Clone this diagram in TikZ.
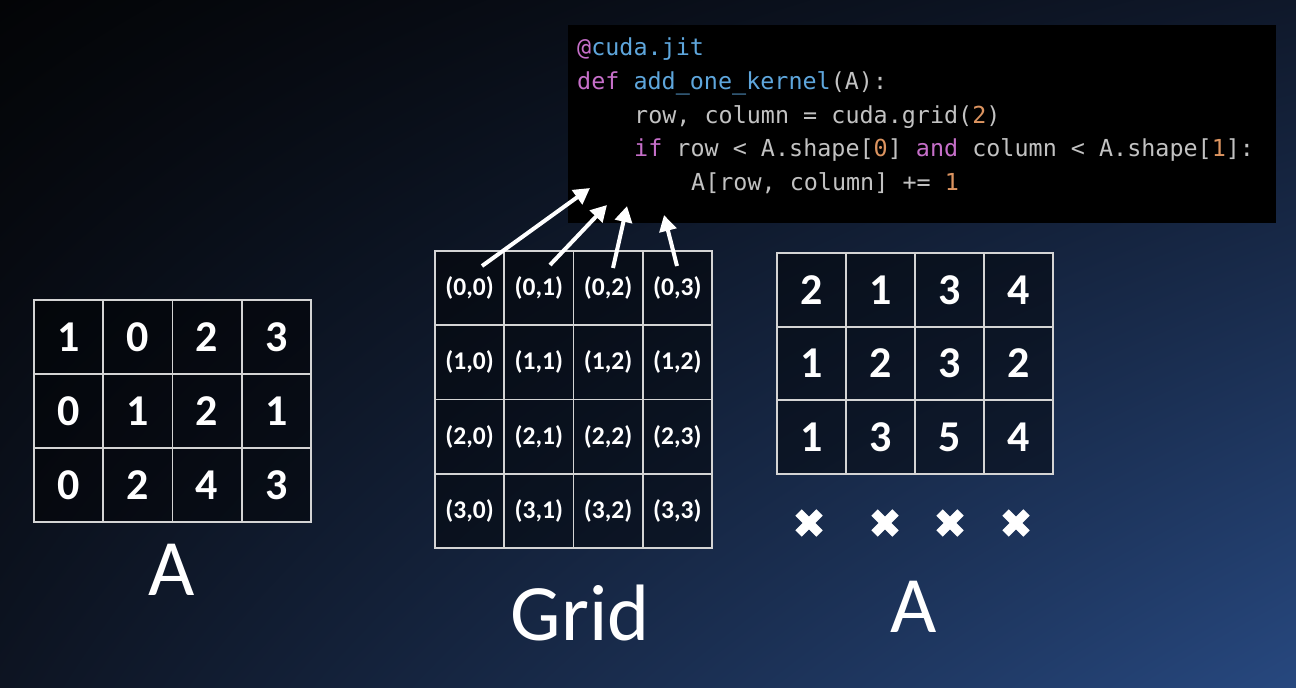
\documentclass[tikz,border=0pt]{standalone}
\usepackage{fontspec}
\setmainfont{Carlito}
\newfontfamily\codefont{DejaVu Sans Mono}
\usetikzlibrary{arrows.meta,shadings}
\definecolor{bgTL}{HTML}{030406}
\definecolor{bgTR}{HTML}{0F182A}
\definecolor{bgBL}{HTML}{0D1422}
\definecolor{bgBR}{HTML}{27487F}
\definecolor{lineC}{HTML}{D4D4D4}
\definecolor{cpink}{HTML}{C66FC9}
\definecolor{cblue}{HTML}{5EA6DC}
\definecolor{cgray}{HTML}{C2C2C2}
\definecolor{corange}{HTML}{DC9460}
\begin{document}
\begin{tikzpicture}[x=1pt,y=-1pt,
  cellbox/.style={draw=lineC, line width=1.8pt, fill=black, fill opacity=0.45, text opacity=1,
    text=white, inner sep=0pt, font=\bfseries\fontsize{44}{44}\selectfont},
  gridcell/.style={cellbox, font=\bfseries\fontsize{25.5}{25.5}\selectfont},
  codeline/.style={anchor=base west, inner sep=0pt, text=cgray, font=\codefont\fontsize{23.4}{23.4}\selectfont},
  biglabel/.style={anchor=base, inner sep=0pt, text=white, font=\fontsize{80}{80}\selectfont},
  arr/.style={white, line width=4pt, -{Triangle[length=16pt,width=17pt]}},
  xmark/.style={white, line width=9pt}
]
\useasboundingbox (0,0) rectangle (1296,688);
\shade[upper left=bgTL, upper right=bgTR, lower left=bgBL, lower right=bgBR] (0,0) rectangle (1296,688);

% code box
\node[fill=black, inner sep=0pt, minimum width=708pt, minimum height=198pt, anchor=north west] (codebox) at (568,25) {};
\node[codeline] (code1) at (577,55) {{\color{cpink}@}{\color{cblue}cuda.jit}};
\node[codeline] (code2) at (577,89) {{\color{cpink}def} {\color{cblue}add\_one\_kernel}(A):};
\node[codeline] (code3) at (634,123) {row, column = cuda.grid({\color{corange}2})};
\node[codeline] (code4) at (634,156) {{\color{cpink}if} row < A.shape[{\color{corange}0}] {\color{cpink}and} column < A.shape[{\color{corange}1}]:};
\node[codeline] (code5) at (691,190) {A[row, column] += {\color{corange}1}};

% left matrix A
\foreach \r/\c/\v in {0/0/1,0/1/0,0/2/2,0/3/3, 1/0/0,1/1/1,1/2/2,1/3/1, 2/0/0,2/1/2,2/2/4,2/3/3}{
  \node[cellbox, minimum width=69.25pt, minimum height=74pt] (L-\r-\c) at ({34+69.25*(\c+0.5)},{300+74*(\r+0.5)}) {\v};
}
\node[biglabel] (labelA1) at (172,595) {A};

% grid
\foreach \r/\c/\v in {0/0/{(0,0)},0/1/{(0,1)},0/2/{(0,2)},0/3/{(0,3)},
  1/0/{(1,0)},1/1/{(1,1)},1/2/{(1,2)},1/3/{(1,2)},
  2/0/{(2,0)},2/1/{(2,1)},2/2/{(2,2)},2/3/{(2,3)},
  3/0/{(3,0)},3/1/{(3,1)},3/2/{(3,2)},3/3/{(3,3)}}{
  \node[gridcell, minimum width=69.25pt, minimum height=74.25pt] (G-\r-\c) at ({435+69.25*(\c+0.5)},{251+74.25*(\r+0.5)}) {\v};
}
\node[biglabel] (labelGrid) at (580,640) {Grid};

% right matrix A
\foreach \r/\c/\v in {0/0/2,0/1/1,0/2/3,0/3/4, 1/0/1,1/1/2,1/2/3,1/3/2, 2/0/1,2/1/3,2/2/5,2/3/4}{
  \node[cellbox, minimum width=69pt, minimum height=73.67pt] (R-\r-\c) at ({777+69*(\c+0.5)},{253+73.67*(\r+0.5)}) {\v};
}
\node[biglabel] (labelA2) at (914,632) {A};

% crosses
\foreach \i/\x in {1/809,2/885,3/950,4/1016}{
  \coordinate (x\i) at (\x,523);
  \draw[xmark] ([shift={(-10.5,-10.5)}]x\i) -- ([shift={(10.5,10.5)}]x\i)
               ([shift={(-10.5,10.5)}]x\i) -- ([shift={(10.5,-10.5)}]x\i);
}

% arrows
\coordinate (t0) at (482,266); \coordinate (h0) at (590,188);
\coordinate (t1) at (550,265); \coordinate (h1) at (607,205);
\coordinate (t2) at (613,268); \coordinate (h2) at (627,206);
\coordinate (t3) at (677,266); \coordinate (h3) at (664,215);
\draw[arr] (t0) -- (h0);
\draw[arr] (t1) -- (h1);
\draw[arr] (t2) -- (h2);
\draw[arr] (t3) -- (h3);
\end{tikzpicture}
\end{document}
